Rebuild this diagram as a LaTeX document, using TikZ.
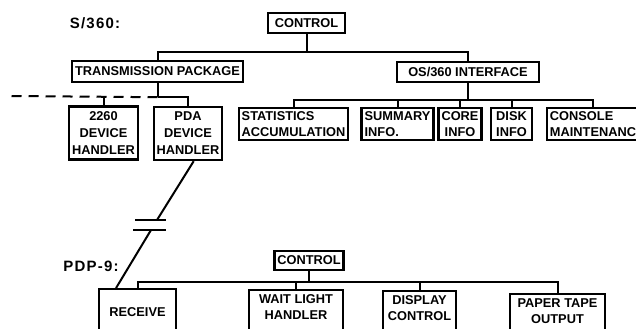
\documentclass[tikz,border=0pt]{standalone}
\usepackage{fontspec}
\setmainfont{Liberation Sans}
\newfontfamily\tagfont[LetterSpace=8]{Liberation Sans}
\usetikzlibrary{calc}

\begin{document}
\begin{tikzpicture}[x=0.5pt,y=-0.5pt,line width=1pt,
font=\fontsize{6.4pt}{8pt}\selectfont\bfseries,
box/.style={draw,line width=1.2pt,align=center,inner xsep=1.5pt,inner ysep=1pt},
leaf/.style={box,minimum height=16pt},
tall/.style={box,minimum height=26.5pt,font=\fontsize{6.4pt}{8.5pt}\selectfont\bfseries},
low/.style={box,anchor=north,inner ysep=2pt,text depth=22pt},
tag/.style={inner sep=0pt,font=\tagfont\fontsize{7.5pt}{9pt}\selectfont\bfseries}]
\useasboundingbox (0,0) rectangle (636,328);
\clip (0,0) rectangle (636,328);
% S/360 side
\node[tag] (s360) at (95,23) {S/360:};
\node[box,minimum width=38.5pt,minimum height=10pt] (ctrl) at (306.5,23) {CONTROL};
\node[box,minimum width=85.5pt,minimum height=10.5pt] (trans) at (157.5,71.5) {TRANSMISSION PACKAGE};
\node[box,minimum width=71pt,minimum height=10pt] (osif) at (468,72) {OS/360 INTERFACE};
\node[tall,minimum width=32.5pt] (dev2260) at (103.5,133) {2260\\DEVICE\\HANDLER};
\node[tall,minimum width=33pt] (pda) at (188,133.5) {PDA\\DEVICE\\HANDLER};
\node[leaf,align=left,minimum width=51.5pt] (stat) at (293.5,124) {STATISTICS\\ACCUMULATION};
\node[leaf,align=left,minimum width=34.5pt] (summ) at (397.5,124) {SUMMARY\\INFO.};
\node[leaf,minimum width=19pt] (core) at (460,124) {CORE\\INFO};
\node[leaf,minimum width=20.5pt] (disk) at (511.5,124) {DISK\\INFO};
\node[leaf,align=left,minimum width=46pt] (cons) at (593,124) {CONSOLE\\MAINTENANC};
\draw (ctrl.south) -- ++(0,18) coordinate (j1);
\draw (trans.north) |- (j1) -| (osif.north);
\draw (trans.south) -- ++(0,14) coordinate (j2);
\draw (j2) -| (pda.north);
\draw[dash pattern=on 5pt off 3.5pt] (j2) -- (10,96) coordinate (cut);
\draw (dev2260.north) -- (dev2260.north|-j2);
\draw (osif.south) -- ++(0,17) coordinate (j3);
\draw (stat.north) |- (j3) -| (cons.north);
\foreach \b in {summ,core,disk} \draw (\b.north) -- (\b.north|-j3);
% PDP-9 side
\node[tag] (pdp9) at (91,266) {PDP-9:};
\node[box,minimum width=34pt,minimum height=9.5pt] (ctrl9) at (309,260.5) {CONTROL};
\node[low,minimum width=38.5pt,text height=11.5pt] (recv) at (137.5,288) {RECEIVE};
\node[low,minimum width=47pt] (wait) at (296,289) {WAIT LIGHT\\HANDLER};
\node[low,minimum width=36.5pt] (disp) at (419.5,290) {DISPLAY\\CONTROL};
\node[low,minimum width=47.5pt] (tape) at (557.5,293) {PAPER TAPE\\OUTPUT};
\draw (ctrl9.south) -- ++(0,11) coordinate (j4);
\draw (recv.north) |- (j4) -| (tape.north);
\foreach \b in {wait,disp} \draw (\b.north) -- (\b.north|-j4);
% link between the machines
\coordinate (brk1) at (157,220);
\coordinate (brk2) at (151,230);
\draw ($(pda.south west)!0.58!(pda.south east)$) -- (brk1);
\draw (brk2) -- ($(recv.north west)!0.23!(recv.north east)$);
\draw (135,220) -- (166,220);
\draw (133,230) -- (166,230);
\end{tikzpicture}
\end{document}
